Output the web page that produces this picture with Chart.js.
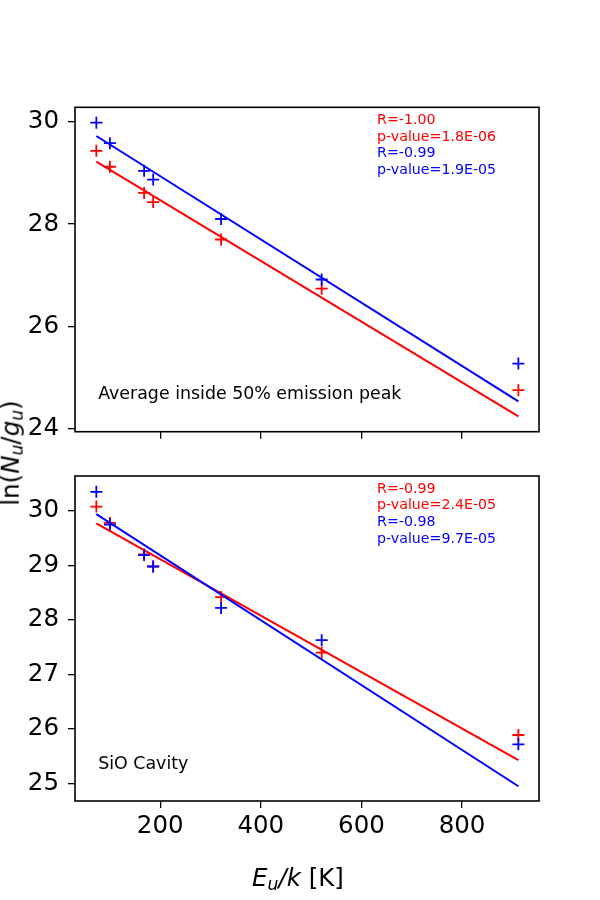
<!DOCTYPE html>
<html>
<head>
<meta charset="utf-8">
<script src="https://cdn.jsdelivr.net/npm/chart.js@4"></script>
<style>
  body { margin: 0; background: #fff; }
  #wrap { position: relative; width: 600px; height: 900px; font-family: "DejaVu Sans", sans-serif; }
  canvas { position: absolute; left: 0; }
  #topChart { top: 0; }
  #bottomChart { top: 440px; }
  .ttl { position: absolute; font-size: 24.5px; color: #000; white-space: nowrap; line-height: 1; }
  .ttl sub { font-size: 70%; vertical-align: -0.25em; line-height: 0; }
  #xTitle { left: 298px; top: 878px; transform: translate(-50%, -50%); }
  #yTitle { left: 11px; top: 453px; transform: translate(-50%, -50%) rotate(-90deg); }
</style>
</head>
<body>
<div id="wrap">
  <canvas id="topChart" width="600" height="460"></canvas>
  <canvas id="bottomChart" width="600" height="460"></canvas>
  <div class="ttl" id="xTitle"><i>E<sub>u</sub>/k</i> [K]</div>
  <div class="ttl" id="yTitle">ln(<i>N<sub>u</sub></i>/<i>g<sub>u</sub></i>)</div>
</div>
<script>
// upper-level energies of the transitions
const energies = [73, 100, 168, 186, 321, 521, 912];

// average inside 50% emission peak
const peakRed = [29.43, 29.12, 28.61, 28.43, 27.70, 26.74, 24.76];
const peakBlue = [29.98, 29.58, 29.04, 28.87, 28.10, 26.92, 25.28];
const peakRedFit = [29.22, 24.25];   // fit at first and last energy
const peakBlueFit = [29.72, 24.54];
const peakStats = ['R=-1.00', 'p-value=1.8E-06', 'R=-0.99', 'p-value=1.9E-05'];

// SiO cavity
const cavityRed = [30.08, 29.78, 29.20, 28.98, 28.42, 27.40, 25.89];
const cavityBlue = [30.35, 29.75, 29.19, 28.98, 28.22, 27.63, 25.72];
const cavityRedFit = [29.77, 25.43];
const cavityBlueFit = [29.94, 24.95];
const cavityStats = ['R=-0.99', 'p-value=2.4E-05', 'R=-0.98', 'p-value=9.7E-05'];

const xTicks = [200, 400, 600, 800];
const peakYTicks = [24, 26, 28, 30];
const cavityYTicks = [25, 26, 27, 28, 29, 30];

const RED = '#ff0000';
const BLUE = '#0000ff';
const FONT = '"DejaVu Sans", sans-serif';

// box round the plot area plus the text inside it
const framePlugin = {
  id: 'frame',
  afterDraw(chart, args, opts) {
    const ctx = chart.ctx;
    const a = chart.chartArea;
    const w = a.right - a.left, h = a.bottom - a.top;
    ctx.save();
    ctx.strokeStyle = '#000';
    ctx.lineWidth = 1.6;
    ctx.strokeRect(a.left, a.top, w, h);

    ctx.font = '14.2px ' + FONT;
    ctx.textBaseline = 'alphabetic';
    opts.stats.forEach((t, i) => {
      ctx.fillStyle = i < 2 ? RED : BLUE;
      ctx.fillText(t, a.left + 0.651 * w, a.top + 16.7 + i * 16.6);
    });

    ctx.font = '17.4px ' + FONT;
    ctx.fillStyle = '#000';
    ctx.fillText(opts.label, a.left + 0.05 * w, a.bottom - 0.1 * h);
    ctx.restore();
  }
};

function points(ys) {
  return ys.map((y, i) => ({ x: energies[i], y: y }));
}

function fitLine(ys) {
  return [{ x: energies[0], y: ys[0] }, { x: energies[energies.length - 1], y: ys[1] }];
}

function makeChart(id, cfg) {
  const ctx = document.getElementById(id).getContext('2d');
  return new Chart(ctx, {
    type: 'scatter',
    data: {
      datasets: [
        { data: points(cfg.blue), borderColor: BLUE, backgroundColor: BLUE, pointStyle: 'cross', pointRadius: 6, borderWidth: 1.8 },
        { type: 'line', data: fitLine(cfg.blueFit), borderColor: BLUE, borderWidth: 2, pointRadius: 0, fill: false },
        { data: points(cfg.red), borderColor: RED, backgroundColor: RED, pointStyle: 'cross', pointRadius: 6, borderWidth: 1.8 },
        { type: 'line', data: fitLine(cfg.redFit), borderColor: RED, borderWidth: 2, pointRadius: 0, fill: false }
      ]
    },
    options: {
      responsive: false,
      animation: false,
      layout: { padding: { top: cfg.padTop, right: 61, left: 0, bottom: 0 } },
      plugins: {
        legend: { display: false },
        tooltip: { enabled: false },
        frame: { stats: cfg.stats, label: cfg.label }
      },
      scales: {
        x: {
          type: 'linear',
          min: 30.6,
          max: 953,
          afterBuildTicks: axis => { axis.ticks = xTicks.map(v => ({ value: v })); },
          afterFit: axis => { axis.height = cfg.xHeight; },
          grid: { drawOnChartArea: false, drawTicks: true, tickLength: 7, color: '#000', lineWidth: 1.3 },
          border: { display: false },
          ticks: { display: cfg.showX, color: '#000', padding: 4, font: { family: FONT, size: 24.5 } }
        },
        y: {
          type: 'linear',
          min: cfg.yMin,
          max: cfg.yMax,
          afterBuildTicks: axis => { axis.ticks = cfg.yTicks.map(v => ({ value: v })); },
          afterFit: axis => { axis.width = 75; },
          grid: { drawOnChartArea: false, drawTicks: true, tickLength: 7, color: '#000', lineWidth: 1.3 },
          border: { display: false },
          ticks: { color: '#000', padding: 9, font: { family: FONT, size: 24.5 } }
        }
      }
    },
    plugins: [framePlugin]
  });
}

makeChart('topChart', {
  red: peakRed, blue: peakBlue, redFit: peakRedFit, blueFit: peakBlueFit,
  stats: peakStats, label: 'Average inside 50% emission peak',
  yMin: 23.95, yMax: 30.28, yTicks: peakYTicks,
  padTop: 107.3, xHeight: 28.3, showX: false
});

makeChart('bottomChart', {
  red: cavityRed, blue: cavityBlue, redFit: cavityRedFit, blueFit: cavityBlueFit,
  stats: cavityStats, label: 'SiO Cavity',
  yMin: 24.68, yMax: 30.64, yTicks: cavityYTicks,
  padTop: 36, xHeight: 99, showX: true
});
</script>
</body>
</html>
